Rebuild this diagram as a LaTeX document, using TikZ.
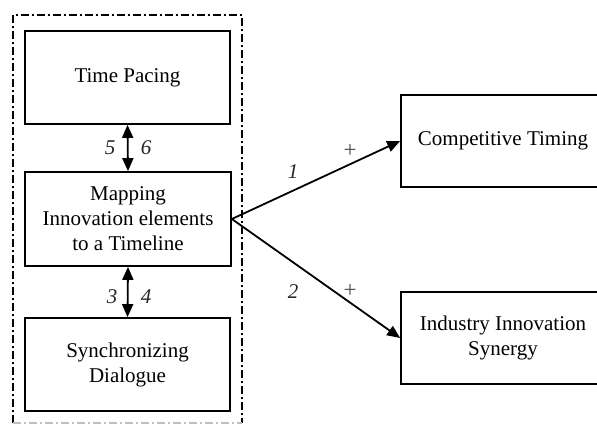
\documentclass[tikz,border=0pt]{standalone}
\usepackage{fontspec}
\setmainfont{Liberation Serif}
\usetikzlibrary{arrows.meta}
\begin{document}
\begin{tikzpicture}[x=1pt,y=-1pt,
  box/.style={draw,line width=1.7pt,align=center,inner sep=0pt,
    font=\fontsize{21}{25}\selectfont},
  link/.style={line width=1.8pt,-{Triangle[length=13pt,width=11pt]}},
  dlink/.style={line width=1.8pt,
    {Triangle[length=13pt,width=11pt]}-{Triangle[length=13pt,width=11pt]}},
  num/.style={font=\fontsize{21}{25}\selectfont\itshape,text=black!85},
  sign/.style={font=\fontsize{23}{25}\selectfont,text=black!70},
  frame/.style={line width=1.5pt,dash pattern=on 8pt off 3pt on 2pt off 3pt},
  framebase/.style={line width=1.5pt,black!25,dash pattern=on 8pt off 3pt on 2pt off 3pt}]
\clip (0,0) rectangle (597,426);
\fill[white] (0,0) rectangle (597,426);

% dash-dot frame around the three process boxes
\coordinate (fbl) at (13,423);
\coordinate (ftl) at (13,15);
\coordinate (ftr) at (242,15);
\coordinate (fbr) at (242,423);
\draw[frame] (fbl) -- (ftl) -- (ftr) -- (fbr);
\draw[framebase] (fbl) -- (fbr);

% process boxes
\node[box,minimum width=205pt,minimum height=93pt] (tp) at (127.5,77.5) {Time Pacing};
\node[box,minimum width=206pt,minimum height=94pt] (map) at (128,219)
  {Mapping\\Innovation elements\\to a Timeline};
\node[box,minimum width=205pt,minimum height=93pt] (sync) at (127.5,364.5)
  {Synchronizing\\Dialogue};

% outcome boxes
\node[box,minimum width=204pt,minimum height=92pt] (comp) at (503,141) {Competitive Timing};
\node[box,minimum width=204pt,minimum height=92pt] (ind) at (503,338)
  {Industry Innovation\\Synergy};

% links
\draw[dlink] (tp.south) -- (map.north);
\draw[dlink] (map.south) -- (sync.north);
\draw[link] (map.east) -- (comp.west);
\draw[link] (map.east) -- (ind.west);

% link labels
\node[num] (l5) at (110,148) {5};
\node[num] (l6) at (146,148) {6};
\node[num] (l3) at (112,297) {3};
\node[num] (l4) at (146,297) {4};
\node[num] (l1) at (293,172) {1};
\node[num] (l2) at (293,292) {2};
\node[sign] (p1) at (350,151) {+};
\node[sign] (p2) at (350,291) {+};
\end{tikzpicture}
\end{document}
